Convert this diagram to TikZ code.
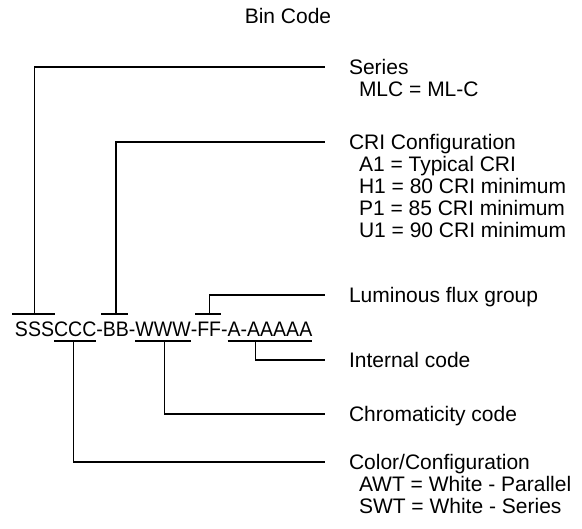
\documentclass[tikz,border=0pt]{standalone}
\usepackage{fontspec}
\setmainfont{Liberation Sans}
\newfontfamily\codefont[FakeStretch=0.93]{Liberation Sans}
\usetikzlibrary{calc}
\begin{document}
\begin{tikzpicture}[x=1pt,y=-1pt,
  conn/.style={line width=1.2pt, line join=miter},
  lbl/.style={anchor=base west, inner sep=0pt, outer sep=0pt, font=\fontsize{21}{22}\selectfont},
  seg/.style={anchor=base west, inner sep=0pt, outer sep=0pt, font=\codefont\fontsize{21}{22}\selectfont}]
\useasboundingbox (0,0) rectangle (582,529);

\node[lbl, anchor=base] (title) at (288,24) {Bin Code};

% code string
\node[seg] (sss) at (15,337) {SSS};
\node[seg] (ccc) at (sss.base east) {CCC};
\node[seg] (d1) at (ccc.base east) {-};
\node[seg] (bb) at (d1.base east) {BB};
\node[seg] (d2) at (bb.base east) {-};
\node[seg] (www) at (d2.base east) {WWW};
\node[seg] (d3) at (www.base east) {-};
\node[seg] (ff) at (d3.base east) {FF};
\node[seg] (d4) at (ff.base east) {-};
\node[seg] (aa) at (d4.base east) {A-AAAAA};

\coordinate (barline) at (0,314);
\coordinate (ulline) at (0,341);

% connector ends
\coordinate (eSeries) at (325,67);
\coordinate (eCri) at (325,142);
\coordinate (eFlux) at (325,295);
\coordinate (eInt) at (325,360);
\coordinate (eChrom) at (325,414);
\coordinate (eColor) at (325,462);

% attach points
\coordinate (mS) at ($(sss.west)!0.5!(sss.east)$);
\coordinate (mB) at ($(bb.west)!0.5!(bb.east)$);
\coordinate (mF) at ($(ff.west)!0.5!(ff.east)$);
\coordinate (mA) at ($(aa.west)!0.33!(aa.east)$);
\coordinate (mW) at ($(www.west)!0.52!(www.east)$);
\coordinate (mC) at ($(ccc.west)!0.45!(ccc.east)$);

% bars above
\draw[conn] ([xshift=-3pt]sss.west |- barline) -- ([xshift=1pt]sss.east |- barline);
\draw[conn] ([xshift=-1.5pt]bb.west |- barline) -- ([xshift=-1pt]bb.east |- barline);
\draw[conn] ([xshift=-2pt]ff.west |- barline) -- ([xshift=0pt]ff.east |- barline);
% underlines
\draw[conn] (ccc.west |- ulline) -- (ccc.east |- ulline);
\draw[conn] (www.west |- ulline) -- (www.east |- ulline);
\draw[conn] (aa.west |- ulline) -- (aa.east |- ulline);

% connectors
\draw[conn] (mS |- barline) |- (eSeries);
\draw[conn] (mB |- barline) |- (eCri);
\draw[conn] (mF |- barline) |- (eFlux);
\draw[conn] (mA |- ulline) |- (eInt);
\draw[conn] (mW |- ulline) |- (eChrom);
\draw[conn] (mC |- ulline) |- (eColor);

% labels
\node[lbl] (series) at (349,74.5) {Series};
\node[lbl] (mlc) at (359,96.5) {MLC = ML-C};

\node[lbl] (cri) at (349,149.5) {CRI Configuration};
\node[lbl] (a1) at (359,171.5) {A1 = Typical CRI};
\node[lbl] (h1) at (359,193.5) {H1 = 80 CRI minimum};
\node[lbl] (p1) at (359,215.5) {P1 = 85 CRI minimum};
\node[lbl] (u1) at (359,237.5) {U1 = 90 CRI minimum};

\node[lbl] (flux) at (349,302.5) {Luminous flux group};
\node[lbl] (int) at (349,367.5) {Internal code};
\node[lbl] (chrom) at (349,421.5) {Chromaticity code};

\node[lbl] (color) at (349,469.5) {Color/Configuration};
\node[lbl] (awt) at (359,491.5) {AWT = White - Parallel};
\node[lbl] (swt) at (359,513.5) {SWT = White - Series};
\end{tikzpicture}
\end{document}
